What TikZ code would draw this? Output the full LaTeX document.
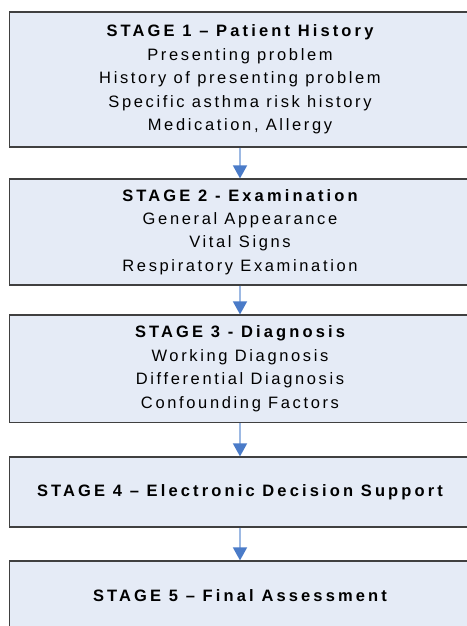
\documentclass[tikz,border=0pt]{standalone}
\usepackage{fontspec}
\setmainfont{Liberation Sans}[LetterSpace=16]
\newfontfamily\titlefont{Liberation Sans}[LetterSpace=19]
\usetikzlibrary{arrows.meta}
\definecolor{boxfill}{HTML}{E5EBF6}
\definecolor{boxline}{HTML}{404040}
\definecolor{shaftblue}{HTML}{9DB9E3}
\definecolor{headblue}{HTML}{4A7BC8}
\begin{document}
\begin{tikzpicture}[x=1pt,y=-1pt,
  stagebox/.style={draw=boxline, line width=1.2pt, fill=boxfill, minimum width=461pt,
    inner sep=0pt, align=center, font=\fontsize{16.5}{23.4}\selectfont},
  flow/.style={draw=shaftblue, line width=1.6pt,
    -{Triangle[width=14pt,length=13pt,color=headblue]}, shorten >=0pt}]
\useasboundingbox (0,0) rectangle (466,626);
\fill[white] (0,0) rectangle (466,626);
\node[stagebox, minimum height=135pt] (s1) at (240,79.5)
  {{\titlefont\bfseries STAGE 1 – Patient History}\\Presenting problem\\History of presenting problem\\Specific asthma risk history\\Medication, Allergy};
\node[stagebox, minimum height=106pt] (s2) at (240,232)
  {{\titlefont\bfseries STAGE 2 - Examination}\\General Appearance\\Vital Signs\\Respiratory Examination};
\node[stagebox, minimum height=107.5pt] (s3) at (240,368.75)
  {{\titlefont\bfseries STAGE 3 - Diagnosis}\\Working Diagnosis\\Differential Diagnosis\\Confounding Factors};
\node[stagebox, minimum height=70pt] (s4) at (240,492)
  {{\titlefont\bfseries STAGE 4 – Electronic Decision Support}};
\node[stagebox, minimum height=70pt] (s5) at (240,596)
  {{\titlefont\bfseries STAGE 5 – Final Assessment}};
\draw[flow] (s1.south) -- (s2.north);
\draw[flow] (s2.south) -- (s3.north);
\draw[flow] (s3.south) -- (s4.north);
\draw[flow] (s4.south) -- (s5.north);
\end{tikzpicture}
\end{document}
